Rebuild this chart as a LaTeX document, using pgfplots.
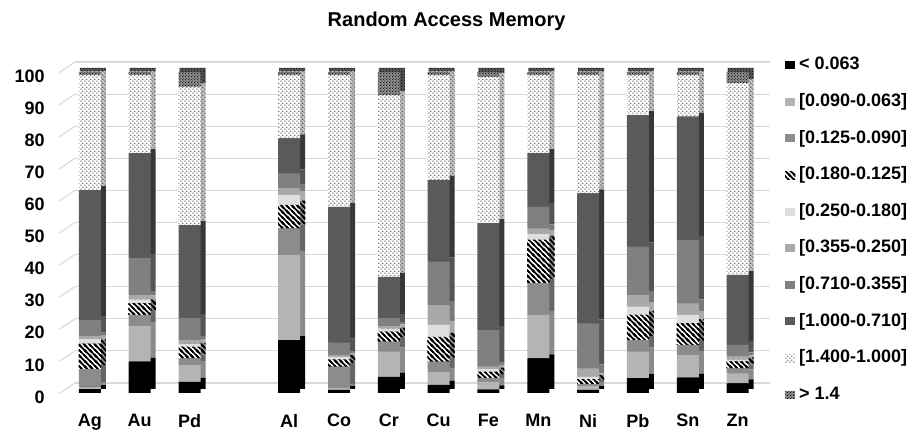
\documentclass[border=0pt]{standalone}
\usepackage{pgfplots}
\pgfplotsset{compat=1.18}
\usepackage{pgfplotstable}
\usepackage{fontspec}
\setmainfont{Liberation Sans}
\usetikzlibrary{patterns}

\definecolor{gridc}{HTML}{D9D9D9}
\definecolor{fb}{HTML}{B4B4B4}
\definecolor{fc}{HTML}{8C8C8C}
\definecolor{fe}{HTML}{DEDEDE}
\definecolor{ff}{HTML}{A9A9A9}
\definecolor{fg}{HTML}{808080}
\definecolor{fh}{HTML}{5A5A5A}
\definecolor{fj}{HTML}{8C8C8C}
\definecolor{sb}{HTML}{8A8A8A}
\definecolor{sc}{HTML}{666666}
\definecolor{sd}{HTML}{8A8A8A}
\definecolor{se}{HTML}{AAAAAA}
\definecolor{sf}{HTML}{7A7A7A}
\definecolor{sg}{HTML}{555555}
\definecolor{sh}{HTML}{383838}
\definecolor{si}{HTML}{BEBEBE}
\definecolor{sj}{HTML}{555555}

\pgfdeclarepatternformonly{thickhatch}{\pgfqpoint{-1pt}{-1pt}}{\pgfqpoint{5pt}{5pt}}{\pgfqpoint{4pt}{4pt}}{%
  \pgfsetlinewidth{1.3pt}%
  \pgfpathmoveto{\pgfqpoint{-1pt}{5pt}}\pgfpathlineto{\pgfqpoint{5pt}{-1pt}}%
  \pgfpathmoveto{\pgfqpoint{-1pt}{1pt}}\pgfpathlineto{\pgfqpoint{1pt}{-1pt}}%
  \pgfpathmoveto{\pgfqpoint{3pt}{5pt}}\pgfpathlineto{\pgfqpoint{5pt}{3pt}}%
  \pgfusepath{stroke}}
\pgfdeclarepatternformonly{smalldots}{\pgfqpoint{0pt}{0pt}}{\pgfqpoint{3.2pt}{3.2pt}}{\pgfqpoint{3.2pt}{3.2pt}}{%
  \pgfpathellipse{\pgfqpoint{0.8pt}{0.8pt}}{\pgfqpoint{0.75pt}{0pt}}{\pgfqpoint{0pt}{0.5pt}}%
  \pgfpathellipse{\pgfqpoint{2.4pt}{2.4pt}}{\pgfqpoint{0.75pt}{0pt}}{\pgfqpoint{0pt}{0.5pt}}%
  \pgfusepath{fill}}
\pgfdeclarepatternformonly{capdots}{\pgfqpoint{0pt}{0pt}}{\pgfqpoint{2pt}{2pt}}{\pgfqpoint{2pt}{2pt}}{%
  \pgfpathcircle{\pgfqpoint{0.5pt}{0.5pt}}{0.42pt}%
  \pgfpathcircle{\pgfqpoint{1.5pt}{1.5pt}}{0.42pt}%
  \pgfusepath{fill}}

% increments per size class, bottom (< 0.063) to top (> 1.4)
\pgfplotstableread{
x  a    b    c    d    e    f    g    h    i    j
0  1.2  0.8  5.4  8.0  1.4  1.0  4.9  40.5 35.8 1.0
1  9.8  11.1 3.4  3.6  1.3  1.3  11.5 32.7 24.3 1.0
2  3.5  5.2  2.1  3.6  1.0  1.1  6.8  29.0 43.1 4.6
4  16.5 26.5 8.3  7.3  3.1  2.1  4.6  10.9 19.7 1.0
5  1.0  0.6  6.6  2.3  0.7  0.6  3.9  42.3 41.0 1.0
6  5.0  7.9  3.1  3.1  1.0  0.7  2.5  12.9 56.6 7.2
7  2.5  4.1  3.2  7.7  3.7  6.2  13.5 25.5 32.6 1.0
8  1.1  2.4  1.1  2.0  0.8  0.8  11.4 33.3 45.6 1.5
9  10.8 13.5 9.9  13.5 1.8  1.8  6.7  16.7 24.3 1.0
10 1.0  1.2  0.6  1.5  0.7  2.7  14.0 40.5 36.8 1.0
11 4.6  8.3  3.6  7.8  2.6  3.6  15.1 41.0 12.4 1.0
12 4.8  7.0  3.2  6.7  2.6  3.6  19.8 38.4 12.9 1.0
13 3.0  3.1  1.6  2.1  0.7  0.9  3.6  21.8 59.7 3.5
}\datatable

\pgfplotsset{
  barax/.style={
    anchor=south west, scale only axis,
    width=532.5pt, height=240.75pt,
    xmin=-0.6, xmax=13.65, ymin=0, ymax=100,
    ybar stacked, bar width=16.5pt,
    axis line style={draw=none}, major tick length=0pt,
    clip=false,
  },
  sq/.style={legend image code/.code={\path[##1,draw=none] (0pt,-3pt) rectangle (7.5pt,3pt);}},
}

\begin{document}
\begin{tikzpicture}
\path[use as bounding box] (0,0) rectangle (687.75pt,323.25pt);

% back wall grid
\begin{axis}[at={(56.25pt,36pt)}, anchor=south west, scale only axis,
  width=521.25pt, height=240.75pt, xmin=0, xmax=1, ymin=0, ymax=100,
  ytick={0,10,...,100}, xtick=\empty, yticklabels={}, ymajorgrids,
  grid style={draw=gridc, line width=0.8pt}, axis line style={draw=none},
  major tick length=0pt, clip=false]
\pgfplotsinvokeforeach{0,10,20,30,40,50,60,70,80,90,100}{\draw[gridc, line width=0.8pt] (axis cs:0,#1) -- ++(-12pt,-8pt);}
\end{axis}

% side and top faces (depth): same stacks, wider, shifted up and right
\begin{axis}[barax, at={(47.25pt,31.5pt)}, bar width=19.5pt, xtick=\empty, ytick=\empty]
\addplot[fill=black, draw=none] table[x=x,y=a]{\datatable};
\addplot[fill=sb, draw=none] table[x=x,y=b]{\datatable};
\addplot[fill=sc, draw=none] table[x=x,y=c]{\datatable};
\addplot[fill=sd, draw=none, postaction={pattern=thickhatch, pattern color=black}] table[x=x,y=d]{\datatable};
\addplot[fill=se, draw=none] table[x=x,y=e]{\datatable};
\addplot[fill=sf, draw=none] table[x=x,y=f]{\datatable};
\addplot[fill=sg, draw=none] table[x=x,y=g]{\datatable};
\addplot[fill=sh, draw=none] table[x=x,y=h]{\datatable};
\addplot[fill=si, draw=none, postaction={pattern=smalldots, pattern color=black!70}] table[x=x,y=i]{\datatable};
\addplot[fill=sj, draw=none, postaction={pattern=capdots, pattern color=black}] table[x=x,y=j]{\datatable};
\end{axis}

% front faces
\begin{axis}[barax, at={(45pt,28.5pt)},
  xtick={0,1,2,4,5,6,7,8,9,10,11,12,13},
  xticklabels={Ag,Au,Pd,Al,Co,Cr,Cu,Fe,Mn,Ni,Pb,Sn,Zn},
  ytick={0,10,...,100},
  /pgf/number format/assume math mode=true,
  tick label style={font=\fontsize{13.5}{16}\selectfont\bfseries},
  yticklabel style={xshift=-8pt, yshift=-3pt},
  xticklabel style={yshift=-12.5pt},
  legend style={at={(1.021,1.049)}, anchor=north west, draw=none, fill=none,
    inner sep=0pt, row sep=14.45pt, column sep=3pt,
    font=\fontsize{13.5}{16}\selectfont\bfseries,
    nodes={inner sep=0pt, text height=10pt, text depth=3pt},
    cells={anchor=west}},
  legend cell align=left]
\addplot[fill=black, draw=none, sq] table[x=x,y=a]{\datatable};
\addplot[fill=fb, draw=none, sq] table[x=x,y=b]{\datatable};
\addplot[fill=fc, draw=none, sq] table[x=x,y=c]{\datatable};
\addplot[fill=white, draw=none, sq, postaction={pattern=thickhatch, pattern color=black}] table[x=x,y=d]{\datatable};
\addplot[fill=fe, draw=none, sq] table[x=x,y=e]{\datatable};
\addplot[fill=ff, draw=none, sq] table[x=x,y=f]{\datatable};
\addplot[fill=fg, draw=none, sq] table[x=x,y=g]{\datatable};
\addplot[fill=fh, draw=none, sq] table[x=x,y=h]{\datatable};
\addplot[fill=white, draw=none, sq, postaction={pattern=smalldots, pattern color=black!65}] table[x=x,y=i]{\datatable};
\addplot[fill=fj, draw=none, sq, postaction={pattern=capdots, pattern color=black}] table[x=x,y=j]{\datatable};
\legend{{< 0.063},{{}[0.090-0.063]},{{}[0.125-0.090]},{{}[0.180-0.125]},{{}[0.250-0.180]},{{}[0.355-0.250]},{{}[0.710-0.355]},{{}[1.000-0.710]},{{}[1.400-1.000]},{> 1.4}}
\end{axis}

\node[font=\fontsize{15}{18}\selectfont\bfseries] at (335pt,307.5pt) {Random Access Memory};
\end{tikzpicture}
\end{document}
